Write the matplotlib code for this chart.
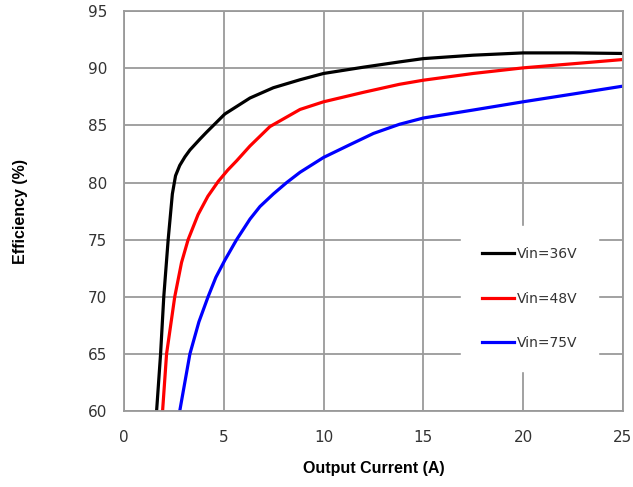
import matplotlib.pyplot as plt

# Efficiency curves
i_36 = [1.63, 1.83, 1.99, 2.21, 2.42, 2.58, 2.79, 3.05, 3.30, 3.80, 4.13, 5.05, 6.31, 7.48, 8.82,
        10.0, 12.0, 13.8, 15.0, 17.5, 20.0, 22.5, 25.0]
eff_36 = [60.0, 65.0, 70.0, 75.0, 79.0, 80.6, 81.5, 82.25, 82.85, 83.8, 84.4, 86.0, 87.4, 88.3, 89.0,
          89.55, 90.1, 90.56, 90.85, 91.15, 91.35, 91.35, 91.3]

i_48 = [1.93, 2.13, 2.54, 2.88, 3.21, 3.71, 4.2, 4.72, 5.2, 5.64, 6.31, 7.31, 8.82,
        10.0, 12.0, 13.8, 15.0, 17.5, 20.0, 22.5, 25.0]
eff_48 = [60.0, 65.0, 70.0, 73.0, 75.0, 77.2, 78.8, 80.1, 81.1, 81.9, 83.2, 84.9, 86.4,
          87.07, 87.9, 88.6, 88.96, 89.55, 90.04, 90.4, 90.77]

i_75 = [2.79, 3.30, 3.75, 4.21, 4.6, 5.05, 5.64, 6.31, 6.81, 7.48, 8.15, 8.82, 10.0,
        11.3, 12.5, 13.8, 15.0, 17.5, 20.0, 22.5, 25.0]
eff_75 = [60.0, 65.0, 67.8, 70.0, 71.7, 73.2, 75.0, 76.8, 77.9, 79.0, 80.0, 80.9, 82.2,
          83.3, 84.3, 85.1, 85.65, 86.35, 87.07, 87.75, 88.44]

x_ticks = [0, 5, 10, 15, 20, 25]
y_ticks = [60, 65, 70, 75, 80, 85, 90, 95]

fig = plt.figure(figsize=(6.33, 4.87), dpi=100)
ax = fig.add_axes([0.196, 0.156, 0.788, 0.821])

ax.plot(i_36, eff_36, color="black", lw=2.3, label="Vin=36V")
ax.plot(i_48, eff_48, color="red", lw=2.3, label="Vin=48V")
ax.plot(i_75, eff_75, color="blue", lw=2.3, label="Vin=75V")

ax.set_xlim(0, 25)
ax.set_ylim(60, 95)
ax.set_xticks(x_ticks)
ax.set_yticks(y_ticks)
ax.grid(True, color="#9a9a9a", lw=1.3)
ax.set_axisbelow(True)
for s in ax.spines.values():
    s.set_color("#9a9a9a")
    s.set_linewidth(1.3)
ax.tick_params(length=0, pad=14, labelsize=11, labelcolor="#333333")
ax.tick_params(axis="y", pad=12)

ax.set_xlabel("Output Current (A)", fontsize=11.5, fontweight="bold",
              family="Liberation Sans", labelpad=11)
ax.set_ylabel("Efficiency (%)", fontsize=11.5, fontweight="bold",
              family="Liberation Sans", labelpad=43)

leg = ax.legend(loc="lower right", bbox_to_anchor=(0.95, 0.1), borderaxespad=0,
                frameon=True, fontsize=10, handlelength=2.35, handletextpad=0.15,
                labelspacing=2.2, borderpad=1.5)
leg.get_frame().set_edgecolor("white")
leg.get_frame().set_facecolor("white")
leg.get_frame().set_alpha(1)
leg.get_frame().set_boxstyle("square", pad=0)
for t in leg.get_texts():
    t.set_color("#333333")

fig.savefig("out.png", dpi=100)
